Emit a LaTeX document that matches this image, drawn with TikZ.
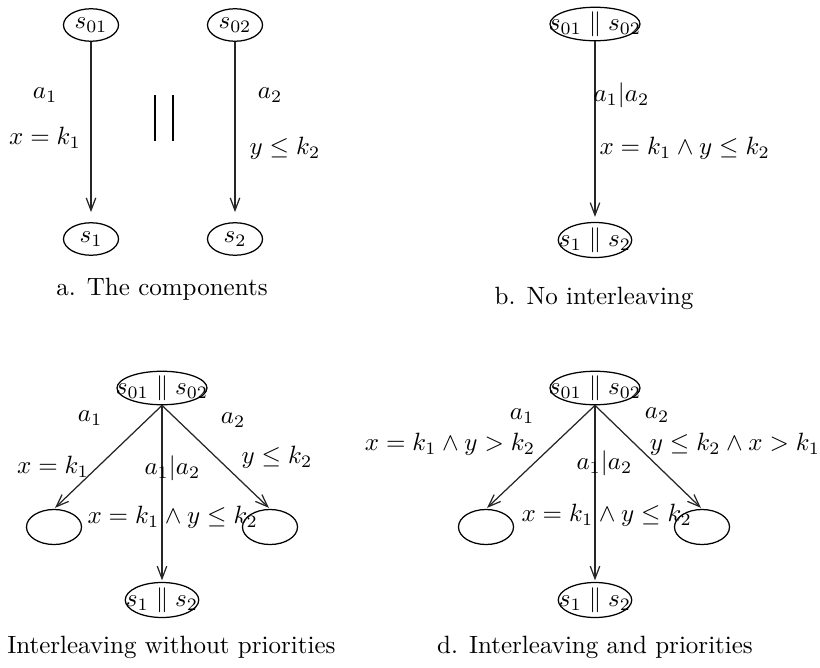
\documentclass[tikz,border=0pt]{standalone}
\usetikzlibrary{shapes.geometric,arrows.meta}
\begin{document}
\begin{tikzpicture}[x=0.4pt,y=-0.4pt,
  st/.style={draw,ellipse,line width=0.5pt,inner sep=-3pt,inner xsep=-30pt},
  sta/.style={st,minimum width=22pt,minimum height=13pt},
  stw/.style={st,minimum width=36pt,minimum height=13.4pt},
  stm/.style={st,minimum width=29.4pt,minimum height=14pt},
  ste/.style={st,minimum width=22pt,minimum height=14pt},
  tr/.style={line width=0.5pt,draw=black!85,-{Straight Barb[length=5pt,width=3.8pt]},shorten >=0.6pt},
  lb/.style={inner sep=0pt},
  captxt/.style={inner sep=0pt}]
\useasboundingbox (0,0) rectangle (820,667);
% ---- a
\node[sta] (s01) at (91,25) {$s_{01}$};
\node[sta] (s1) at (91,239) {$s_1$};
\node[sta] (s02) at (235,25) {$s_{02}$};
\node[sta] (s2) at (235,239) {$s_2$};
\draw[tr,shorten >=4pt] (s01) -- (s1);
\draw[tr,shorten >=4pt] (s02) -- (s2);
\node[lb] (la1) at (45,95) {$a_1$};
\node[lb] (lg1) at (45,138) {$x=k_1$};
\node[lb] (la2) at (270,95) {$a_2$};
\node[lb] (lg2) at (285,148) {$y\leq k_2$};
\draw[line width=0.8pt] (155,95) -- (155,141);
\draw[line width=0.8pt] (173,95) -- (173,141);
\node[captxt] (capa) at (162,289) {a. The components};
% ---- b
\node[stw] (b0) at (595,24) {$s_{01}\parallel s_{02}$};
\node[stm] (b1) at (595,240) {$s_1\parallel s_2$};
\draw[tr,shorten >=2pt] (b0) -- (b1);
\node[lb,anchor=west] (lb1) at (593,95) {$a_1|a_2$};
\node[lb,anchor=west] (lb2) at (599,148) {$x=k_1\wedge y\leq k_2$};
\node[captxt] (capb) at (594,298) {b. No interleaving};
% ---- c
\node[stw] (c0) at (162,388) {$s_{01}\parallel s_{02}$};
\node[ste] (cl) at (54,527) {};
\node[ste] (cr) at (270,527) {};
\node[stm] (c1) at (162,600) {$s_1\parallel s_2$};
\draw[tr] (c0.south) -- (cl.north);
\draw[tr] (c0.south) -- (cr.north);
\draw[tr] (c0.south) -- (c1.north);
\node[lb] (lc1) at (90,418) {$a_1$};
\node[lb] (lc2) at (53,467) {$x=k_1$};
\node[lb] (lc3) at (233,420) {$a_2$};
\node[lb] (lc4) at (277,457) {$y\leq k_2$};
\node[lb,anchor=west] (lc5) at (144,468) {$a_1|a_2$};
\node[lb,anchor=west] (lc6) at (87,517) {$x=k_1\wedge y\leq k_2$};
\node[captxt,anchor=east] (capc) at (336,647) {c. Interleaving without priorities};
% ---- d
\node[stw] (d0) at (595,388) {$s_{01}\parallel s_{02}$};
\node[ste] (dl) at (486,527) {};
\node[ste] (dr) at (702,527) {};
\node[stm] (d1) at (595,600) {$s_1\parallel s_2$};
\draw[tr] (d0.south) -- (dl.north);
\draw[tr] (d0.south) -- (dr.north);
\draw[tr] (d0.south) -- (d1.north);
\node[lb] (ld1) at (522,416) {$a_1$};
\node[lb] (ld2) at (450,444) {$x=k_1\wedge y>k_2$};
\node[lb] (ld3) at (657,415) {$a_2$};
\node[lb] (ld4) at (735,444) {$y\leq k_2\wedge x>k_1$};
\node[lb,anchor=west] (ld5) at (576,463) {$a_1|a_2$};
\node[lb,anchor=west] (ld6) at (521,515) {$x=k_1\wedge y\leq k_2$};
\node[captxt] (capd) at (595,647) {d. Interleaving and priorities};
\end{tikzpicture}
\end{document}
